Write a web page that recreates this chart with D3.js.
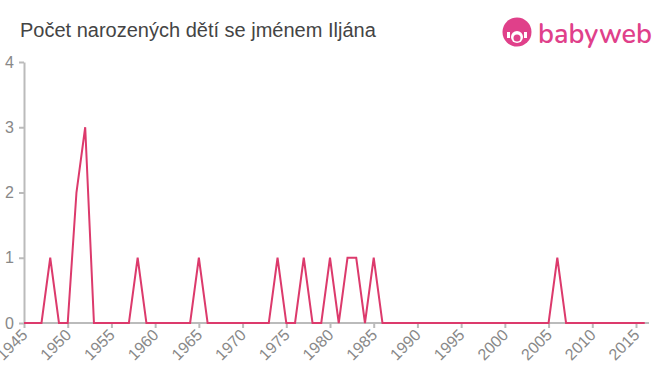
<!DOCTYPE html>
<html>
<head>
<meta charset="utf-8">
<script src="https://cdn.jsdelivr.net/npm/d3@7"></script>
<style>
body { margin: 0; background: #fff; }
text { font-family: "Liberation Sans", Arial, sans-serif; }
</style>
</head>
<body>
<div id="chart"></div>
<script>
let years = d3.range(1945, 2017);
let counts = [0,0,0,1,0,0,2,3,0,0,0,0,0,1,0,0,0,0,0,0,1,0,0,0,0,0,0,0,0,1,0,0,1,0,0,1,0,1,1,0,1,0,0,0,0,0,0,0,0,0,0,0,0,0,0,0,0,0,0,0,0,1,0,0,0,0,0,0,0,0,0,0];
let xTicks = d3.range(1945, 2016, 5);
let yTicks = [0, 1, 2, 3, 4];

let data = years.map((y, i) => ({year: y, count: counts[i]}));

let width = 660, height = 375;
let svg = d3.select("#chart").append("svg")
    .attr("width", width)
    .attr("height", height);

let x = d3.scaleLinear().domain([1945, 2015]).range([24, 636]);
let y = d3.scaleLinear().domain([0, 4]).range([323, 62]);

// title
svg.append("text")
    .attr("x", 20).attr("y", 37)
    .style("font-size", "20px")
    .style("fill", "#444")
    .text("Počet narozených dětí se jménem Iljána");

// logo
let logo = svg.append("g").attr("transform", "translate(517,32)");
logo.append("circle").attr("r", 14.5).style("fill", "#e0408a");
logo.append("circle").attr("cx", 0).attr("cy", 5).attr("r", 6).style("fill", "#fff");
logo.append("circle").attr("cx", 0).attr("cy", 6).attr("r", 3.5).style("fill", "#e0408a");
logo.append("rect").attr("x", -10).attr("y", 0).attr("width", 3).attr("height", 6).style("fill", "#fff");
logo.append("rect").attr("x", 7).attr("y", 0).attr("width", 3).attr("height", 6).style("fill", "#fff");
svg.append("text")
    .attr("x", 538).attr("y", 43)
    .style("font-size", "27px")
    .style("font-weight", "600")
    .style("font-family", "Nunito, 'Open Sans', sans-serif")
    .style("fill", "#e0408a")
    .text("babyweb");

// axes
let xAxis = svg.append("g")
    .attr("transform", "translate(0,323)")
    .call(d3.axisBottom(x).tickValues(xTicks).tickFormat(d3.format("d")).tickSize(5).tickSizeOuter(0));
xAxis.select(".domain").attr("d", "M24,0H649");
xAxis.selectAll("text")
    .attr("y", 0)
    .attr("dy", "0.35em")
    .attr("transform", "translate(0,9) rotate(-45)")
    .attr("text-anchor", "end");

let yAxis = svg.append("g")
    .attr("transform", "translate(24,0)")
    .call(d3.axisLeft(y).tickValues(yTicks).tickFormat(d3.format("d")).tickSize(5).tickSizeOuter(0));
yAxis.selectAll("text").attr("x", -10);

svg.selectAll(".domain, .tick line").style("stroke", "#bbb").style("stroke-width", 2);
svg.selectAll(".tick text").style("fill", "#888").style("font-size", "16px");

// line
let line = d3.line().x(d => x(d.year)).y(d => y(d.count));
svg.append("path")
    .datum(data)
    .attr("d", line)
    .style("fill", "none")
    .style("stroke", "#dc3a6c")
    .style("stroke-width", 2);
</script>
</body>
</html>
